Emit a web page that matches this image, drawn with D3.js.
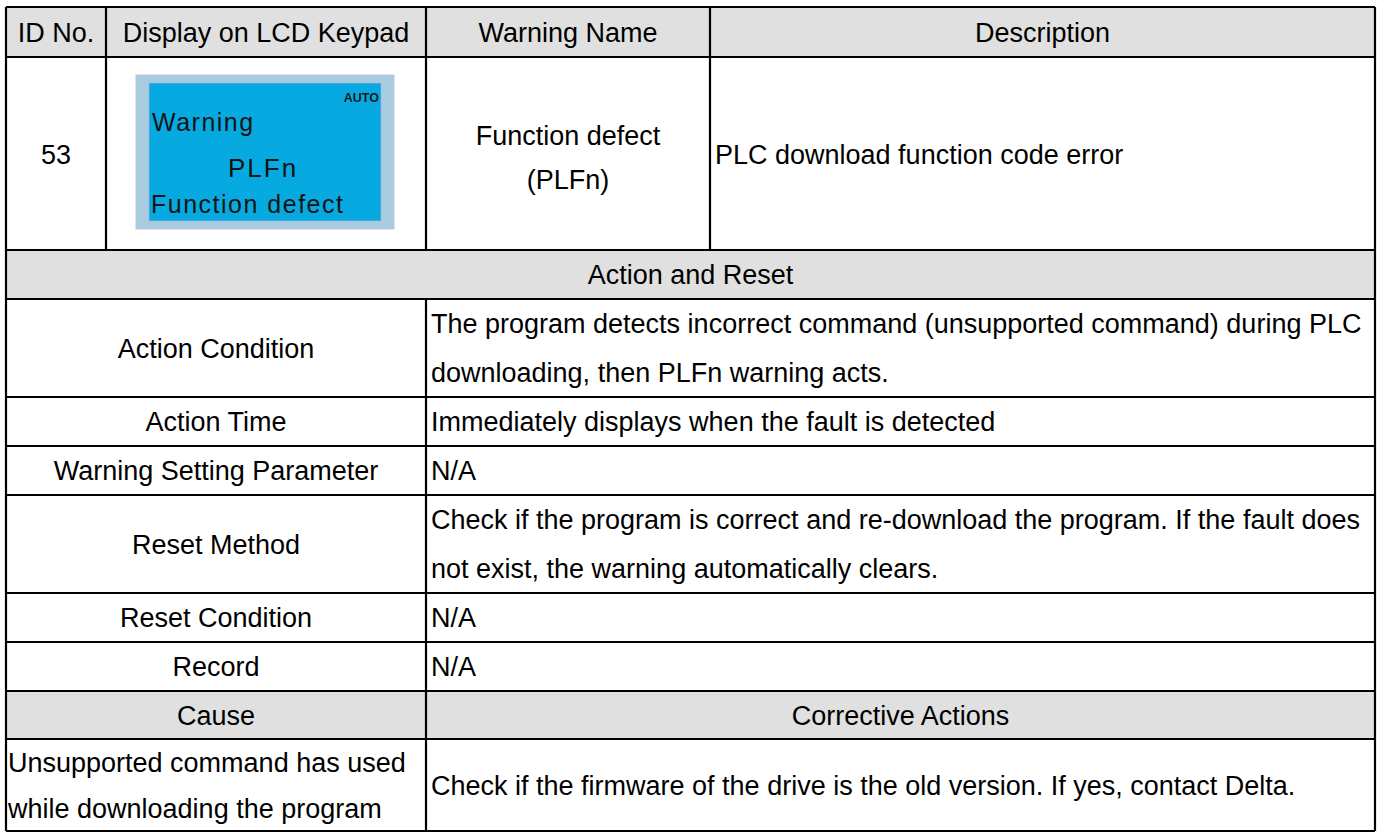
<!DOCTYPE html>
<html>
<head>
<meta charset="utf-8">
<script src="https://cdn.jsdelivr.net/npm/d3@7"></script>
<style>
  html, body { margin: 0; padding: 0; background: #fff; }
  svg { display: block; }
  text { font-family: "Liberation Sans", Arial, sans-serif; fill: #000; }
</style>
</head>
<body>
<svg id="chart" width="1378" height="834"></svg>
<script>
// ---------- data ----------
const headerCols = ["ID No.", "Display on LCD Keypad", "Warning Name", "Description"];
const warningId = "53";
const lcdMode = "AUTO";
const lcdLines = ["Warning", "PLFn", "Function defect"];
const warningName = ["Function defect", "(PLFn)"];
const description = ["PLC download function code error"];
const sectionTitle = "Action and Reset";
const actionLabels = ["Action Condition", "Action Time", "Warning Setting Parameter", "Reset Method", "Reset Condition", "Record"];
const actionValues = [
  ["The program detects incorrect command (unsupported command) during PLC", "downloading, then PLFn warning acts."],
  ["Immediately displays when the fault is detected"],
  ["N/A"],
  ["Check if the program is correct and re-download the program. If the fault does", "not exist, the warning automatically clears."],
  ["N/A"],
  ["N/A"]
];
const causeHeader = ["Cause", "Corrective Actions"];
const causes = [["Unsupported command has used", "while downloading the program"]];
const corrective = [["Check if the firmware of the drive is the old version. If yes, contact Delta."]];

// ---------- layout ----------
(function draw() {
const svg = d3.select("#chart");
const FS = 27;
const xL = 6, xR = 1375, yT = 7;
const keys = ["id", "lcd", "name", "desc", "end"];
const colX = d3.scaleOrdinal().domain(keys).range([6, 106, 426, 710, 1375]);
const splitX = 426;
const lineH = 49;

const rows = [];
rows.push({ type: "header", h: 50 });
rows.push({ type: "main", h: 193 });
rows.push({ type: "section", h: 49 });
actionLabels.forEach((lab, i) => rows.push({ type: "action", label: lab, value: actionValues[i], h: actionValues[i].length * lineH }));
rows.push({ type: "causeHeader", h: 48 });
causes.forEach((c, i) => rows.push({ type: "cause", label: c, value: corrective[i], h: 92 }));
let yAcc = yT;
rows.forEach(r => { r.y0 = yAcc; yAcc += r.h; r.y1 = yAcc; });
const yB = yAcc;

const g = svg.append("g");
const gray = "#e0e0e0";

rows.filter(r => ["header", "section", "causeHeader"].includes(r.type)).forEach(r => {
  g.append("rect").attr("x", xL).attr("y", r.y0).attr("width", xR - xL).attr("height", r.h).attr("fill", gray);
});

function txt(x, y, s, anchor, size) {
  return g.append("text").attr("x", x).attr("y", y).attr("dy", "0.36em")
    .attr("text-anchor", anchor || "start").attr("font-size", size || FS).text(s);
}
const cx = (a, b) => (colX(a) + colX(b)) / 2;

rows.forEach(r => {
  const mid = (r.y0 + r.y1) / 2;
  if (r.type === "header") {
    headerCols.forEach((h, i) => txt(cx(keys[i], keys[i + 1]), mid, h, "middle"));
  } else if (r.type === "main") {
    txt(cx("id", "lcd"), mid + 1, warningId, "middle");
    warningName.forEach((s, i) => txt(cx("name", "desc"), mid - 18 + i * 44, s, "middle"));
    description.forEach(s => txt(colX("desc") + 5, mid + 1, s, "start"));
    const lx0 = 136, lx1 = 394, ly0 = 75, ly1 = 229;
    g.append("rect").attr("x", lx0).attr("y", ly0).attr("width", lx1 - lx0).attr("height", ly1 - ly0)
      .attr("fill", "#a8cde1").attr("stroke", "#c8c4e4").attr("stroke-width", 1);
    g.append("rect").attr("x", 149).attr("y", 83).attr("width", 232).attr("height", 138)
      .attr("fill", "#06aae0").attr("stroke", "#b8b0e0").attr("stroke-width", 0.6);
    g.append("text").attr("x", 379).attr("y", 102).attr("text-anchor", "end")
      .attr("font-size", 12.5).attr("font-weight", "bold").style("fill", "#1a1a1a").text(lcdMode);
    const lcdPos = [[152, 131, 25, 1.5], [228, 177, 26, 2], [151, 213, 25, 1.5]];
    lcdLines.forEach((s, i) => {
      g.append("text").attr("x", lcdPos[i][0]).attr("y", lcdPos[i][1]).attr("font-size", lcdPos[i][2])
        .attr("letter-spacing", lcdPos[i][3] + "px").style("fill", "#141414").text(s);
    });
  } else if (r.type === "section") {
    txt((xL + xR) / 2, mid, sectionTitle, "middle");
  } else if (r.type === "action") {
    txt((xL + splitX) / 2, mid, r.label, "middle");
    r.value.forEach((s, i) => txt(splitX + 5, r.y0 + lineH / 2 + i * lineH, s, "start"));
  } else if (r.type === "causeHeader") {
    txt((xL + splitX) / 2, mid, causeHeader[0], "middle");
    txt((splitX + xR) / 2, mid, causeHeader[1], "middle");
  } else if (r.type === "cause") {
    r.label.forEach((s, i) => txt(xL + 2, mid - 23 + i * 46, s, "start"));
    r.value.forEach(s => txt(splitX + 5, mid, s, "start"));
  }
});

const L = g.append("g").attr("stroke", "#000").attr("stroke-width", 2.2);
rows.forEach(r => {
  L.append("line").attr("x1", xL).attr("x2", xR).attr("y1", r.y0).attr("y2", r.y0);
});
L.append("line").attr("x1", xL).attr("x2", xR).attr("y1", yB).attr("y2", yB);
L.append("line").attr("x1", xL).attr("x2", xL).attr("y1", yT).attr("y2", yB);
L.append("line").attr("x1", xR).attr("x2", xR).attr("y1", yT).attr("y2", yB);
const rHead = rows[0], rMain = rows[1];
["lcd", "name", "desc"].forEach(k => {
  L.append("line").attr("x1", colX(k)).attr("x2", colX(k)).attr("y1", rHead.y0).attr("y2", rMain.y1);
});
rows.filter(r => ["action", "causeHeader", "cause"].includes(r.type)).forEach(r => {
  L.append("line").attr("x1", splitX).attr("x2", splitX).attr("y1", r.y0).attr("y2", r.y1);
});
})();
</script>
</body>
</html>
